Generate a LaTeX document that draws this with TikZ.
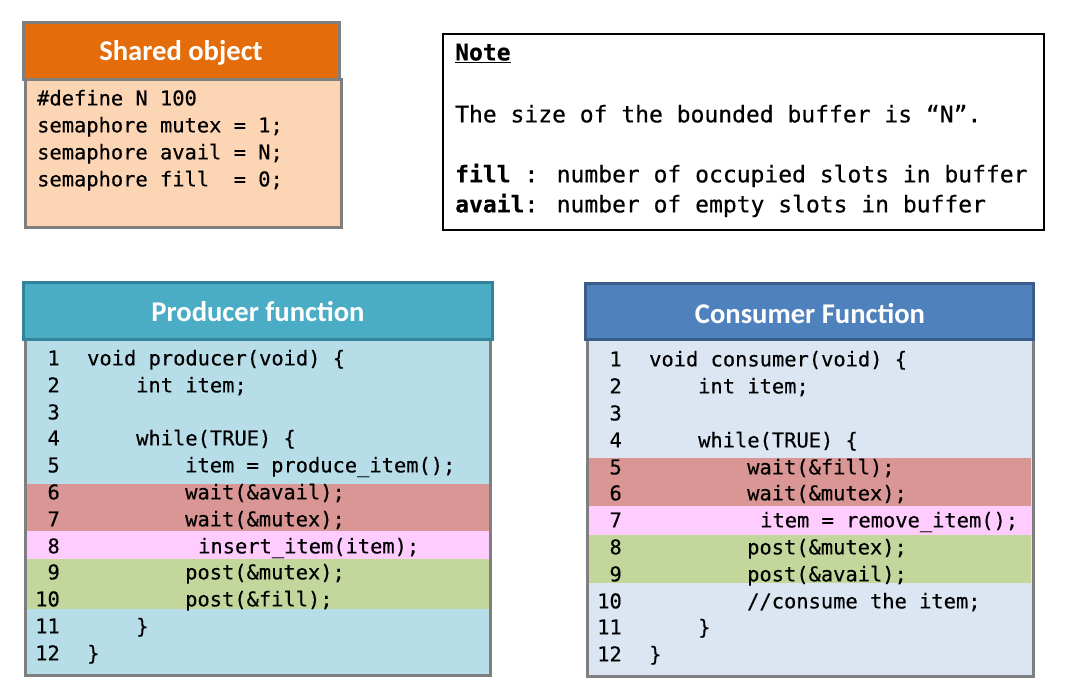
\documentclass[tikz,border=0pt]{standalone}
\usepackage{fontspec}
\setmainfont{Carlito}
\newfontfamily\codefont[FakeBold=0.4]{DejaVu Sans Mono}
\definecolor{orangeH}{HTML}{E46C0A}
\definecolor{orangeB}{HTML}{FCD5B5}
\definecolor{tealH}{HTML}{4BACC6}
\definecolor{tealE}{HTML}{31849B}
\definecolor{tealB}{HTML}{B7DEE8}
\definecolor{blueH}{HTML}{4F81BD}
\definecolor{blueE}{HTML}{385D8A}
\definecolor{blueB}{HTML}{DCE6F2}
\definecolor{redband}{HTML}{D99694}
\definecolor{pinkband}{HTML}{FFCCFF}
\definecolor{greenband}{HTML}{C3D69B}
\definecolor{grayE}{HTML}{7F7F7F}
\tikzset{
  title/.style={font=\bfseries\fontsize{28.6}{32}\selectfont, text=white, inner sep=0pt},
  code/.style={font=\codefont\fontsize{20.4}{27}\selectfont, anchor=mid west, inner sep=0pt, yshift=-5pt},
  num/.style={font=\codefont\fontsize{20.4}{27}\selectfont, anchor=mid east, inner sep=0pt, yshift=-5pt},
  note/.style={font=\codefont\fontsize{23}{30}\selectfont, anchor=mid west, inner sep=0pt, yshift=-5pt},
  frame/.style={draw=grayE, line width=3pt},
}
\begin{document}
\begin{tikzpicture}[x=1pt,y=-1pt]
\useasboundingbox (0,0) rectangle (1069,692);
% ---------- Shared object ----------
\draw[frame, fill=orangeB] (25,80) rectangle (341,228);
\draw[frame, fill=orangeH] (23,23) rectangle (339,80);
\node[title] (shtitle) at (181,53) {Shared object};
\node[code] (sh1) at (37,98) {\#define N 100};
\node[code] (sh2) at (37,125) {semaphore mutex = 1;};
\node[code] (sh3) at (37,152) {semaphore avail = N;};
\node[code] (sh4) at (37,179) {semaphore fill~ = 0;};
% ---------- Note ----------
\draw[black, line width=2pt, fill=white] (443,34) rectangle (1044,230);
\node[note] (n1) at (455,53) {\bfseries\underline{Note}};
\node[note] (n2) at (455,115) {The size of the bounded buffer is “N”.};
\node[note] (n3) at (455,175) {\bfseries fill\mdseries{} : number of occupied slots in buffer};
\node[note] (n4) at (455,205) {\bfseries avail\mdseries{}: number of empty slots in buffer};
% ---------- Producer ----------
\fill[tealB] (25,340) rectangle (490,675);
\fill[redband] (27,484) rectangle (489,531);
\fill[pinkband] (27,531) rectangle (489,559);
\fill[greenband] (27,559) rectangle (489,609);
\draw[frame] (25,340) rectangle (490,675);
\draw[draw=tealE, line width=3pt, fill=tealH] (23,283) rectangle (492,340);
\node[title] (ptitle) at (258,312) {Producer function};
\foreach \n/\y in {1/358,2/385,3/412,4/438,5/465,6/492,7/519,8/546,9/572,10/599,11/626,12/653}
  \node[num] (pn\n) at (60,\y) {\n};
\node[code] (p1) at (87,358) {void producer(void) \{};
\node[code] (p2) at (136,385) {int item;};
\node[code] (p4) at (136,438) {while(TRUE) \{};
\node[code] (p5) at (185,465) {item = produce\_item();};
\node[code] (p6) at (185,492) {wait(\&avail);};
\node[code] (p7) at (185,519) {wait(\&mutex);};
\node[code] (p8) at (198,546) {insert\_item(item);};
\node[code] (p9) at (185,572) {post(\&mutex);};
\node[code] (p10) at (185,599) {post(\&fill);};
\node[code] (p11) at (136,626) {\}};
\node[code] (p12) at (87,653) {\}};
% ---------- Consumer ----------
\fill[blueB] (587,340) rectangle (1033,676);
\fill[redband] (589,458) rectangle (1031,506);
\fill[pinkband] (589,506) rectangle (1031,535);
\fill[greenband] (589,535) rectangle (1031,583);
\draw[frame] (587,340) rectangle (1033,676);
\draw[draw=blueE, line width=3pt, fill=blueH] (585,284) rectangle (1033,340);
\node[title] (ctitle) at (810,314) {Consumer Function};
\foreach \n/\y in {1/359,2/386,3/413,4/440,5/467,6/493,7/520,8/547,9/574,10/601,11/627,12/654}
  \node[num] (cn\n) at (622,\y) {\n};
\node[code] (c1) at (649,359) {void consumer(void) \{};
\node[code] (c2) at (698,386) {int item;};
\node[code] (c4) at (698,440) {while(TRUE) \{};
\node[code] (c5) at (747,467) {wait(\&fill);};
\node[code] (c6) at (747,493) {wait(\&mutex);};
\node[code] (c7) at (760,520) {item = remove\_item();};
\node[code] (c8) at (747,547) {post(\&mutex);};
\node[code] (c9) at (747,574) {post(\&avail);};
\node[code] (c10) at (747,601) {//consume the item;};
\node[code] (c11) at (698,627) {\}};
\node[code] (c12) at (649,654) {\}};
\end{tikzpicture}
\end{document}
